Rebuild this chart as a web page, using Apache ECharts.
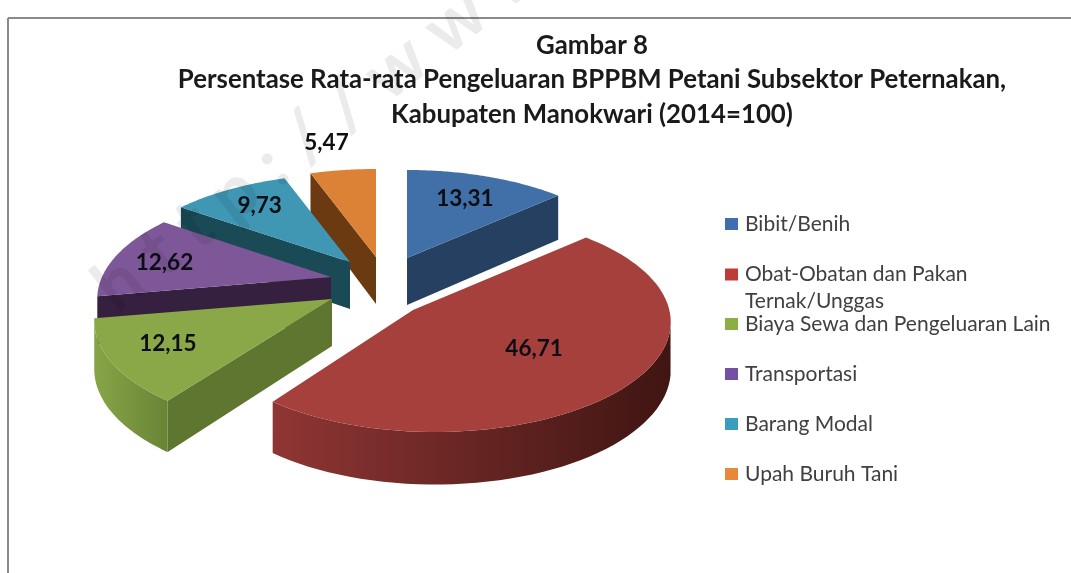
<!DOCTYPE html>
<html>
<head>
<meta charset="utf-8">
<style>html,body{margin:0;padding:0;background:#fff}#c{width:1071px;height:573px}</style>
<script src="https://cdn.jsdelivr.net/npm/echarts@6/dist/echarts.min.js"></script>
</head>
<body>
<div id="c"></div>
<script>
// --- data ---
const categories = ['Bibit/Benih','Obat-Obatan dan Pakan Ternak/Unggas','Biaya Sewa dan Pengeluaran Lain','Transportasi','Barang Modal','Upah Buruh Tani'];
const values = [13.31, 46.71, 12.15, 12.62, 9.73, 5.47];
const legendLines = {'Obat-Obatan dan Pakan Ternak/Unggas':' \nObat-Obatan dan Pakan\nTernak/Unggas'};

// --- styles ---
const topColors = ['#4170A8','#A5403D','#8AA848','#7E5799','#3F97B4','#DC8237'];
const cutColors = ['#254061','#5a2220','#5E7630','#36203F','#1A4A55','#6B3A10'];
const wallStart = ['#254061','#8F3634','#87A547','#46294F','#1A4A55','#6B3A10'];
const wallEnd   = ['#254061','#3F1512','#6A8436','#46294F','#1A4A55','#6B3A10'];
const legendColors = ['#3F6FB0','#BE3C38','#8CAE45','#7350A3','#3A9DBB','#E8883A'];

// --- pie layout ---
const centerX = 385, centerY = 284;
const radiusX = 231, radiusY = 105.6, perspective = 0.2, depth = 47;
const explodeX = [22, 50, -55, -52, -35, -9];
const explodeY = [-26, 16, 15, -7, -22, -27];
const tipShiftX = [0, -22, 2, -2, 0, 0];
const tipShiftY = [0, 10, 0, 0, 0, 0];
const labelRadiusX = [0.73, 0.5, 0.74, 0.78, 0.75, 1.5];
const labelRadiusY = [0.73, 0.6, 0.72, 0.65, 0.78, 1.31];
const paintOrder = [5, 4, 0, 3, 2, 1];
const legendRow = [224, 274, 324, 374, 424, 474];

const total = values.reduce((a, b) => a + b, 0);
const startAngle = [];
values.reduce((acc, v, i) => { startAngle[i] = acc; return acc + v / total * 360; }, 0);

function project(i, deg, k) {
  const t = deg * Math.PI / 180, w = 1 + perspective * Math.cos(t) * k;
  return {
    x: centerX + explodeX[i] + radiusX * k * Math.sin(t) / w,
    y: centerY + explodeY[i] - radiusY * k * Math.cos(t) / w,
    d: depth / Math.sqrt(w)
  };
}
const poly = (pts, style, z2) => ({ type: 'polygon', z2, shape: { points: pts }, style });

function renderSlice(i) {
  return function (params, api) {
    const v = api.value(0);
    const sweep = v / total * 360, a0 = startAngle[i], steps = 72;
    const arc = [];
    for (let s = 0; s <= steps; s++) arc.push(project(i, a0 + sweep * s / steps, 1));
    const c = project(i, 0, 0);
    const tip = { x: c.x + tipShiftX[i], y: c.y + tipShiftY[i], d: depth };
    const children = [];
    const quad = (a, b) => [[a.x, a.y], [b.x, b.y], [b.x, b.y + b.d], [a.x, a.y + a.d]];
    if (arc[0].x < tip.x - 1) children.push(poly(quad(tip, arc[0]), { fill: cutColors[i] }, 1));
    if (tip.x < arc[steps].x - 1) children.push(poly(quad(arc[steps], tip), { fill: cutColors[i] }, 1));
    const vis = arc.filter((p, n) => n > 0 ? p.x < arc[n - 1].x : arc[1].x < p.x);
    if (vis.length > 1) {
      const wall = vis.map(p => [p.x, p.y]).concat(vis.slice().reverse().map(p => [p.x, p.y + p.d]));
      children.push(poly(wall, {
        fill: new echarts.graphic.LinearGradient(0, 0, 1, 0, [
          { offset: 0, color: wallStart[i] }, { offset: 1, color: wallEnd[i] }
        ])
      }, 2));
    }
    children.push(poly([[tip.x, tip.y]].concat(arc.map(p => [p.x, p.y])), { fill: topColors[i] }, 3));
    const lab = project(i, a0 + sweep / 2, 1);
    children.push({
      type: 'text', z2: 4,
      style: {
        x: c.x + (lab.x - c.x) * labelRadiusX[i],
        y: c.y + (lab.y - c.y) * labelRadiusY[i],
        text: v.toFixed(2).replace('.', ','),
        fill: '#0d0d14', font: 'bold 22.5px Lato', align: 'center', verticalAlign: 'middle'
      }
    });
    return { type: 'group', children };
  };
}

const option = {
  animation: false,
  backgroundColor: '#fff',
  title: {
    text: 'Gambar 8\nPersentase Rata-rata Pengeluaran BPPBM Petani Subsektor Peternakan,\nKabupaten Manokwari (2014=100)',
    left: 587, top: 23, textAlign: 'center',
    textStyle: { fontFamily: 'Lato', fontWeight: 'bold', fontSize: 25.8, lineHeight: 34.5, color: '#1a1a1a' }
  },
  legend: categories.map((name, i) => ({
    data: [{ name, icon: 'rect', itemStyle: { color: legendColors[i] } }],
    left: 725, top: legendRow[i] - (legendLines[name] ? 40 : 13.5),
    itemWidth: 13, itemHeight: 12, itemGap: 0, padding: 0,
    selectedMode: false,
    formatter: n => legendLines[n] || n,
    textStyle: { fontFamily: 'Lato', fontSize: 21, color: '#404040', lineHeight: 27, padding: [0, 0, 0, 2] }
  })),
  graphic: [
    { type: 'line', shape: { x1: 8, y1: 18, x2: 1071, y2: 18 }, style: { stroke: '#8a8a8a', lineWidth: 2 } },
    { type: 'line', shape: { x1: 8, y1: 18, x2: 8, y2: 573 }, style: { stroke: '#8a8a8a', lineWidth: 2 } },
    {
      type: 'text', z: 100, silent: true, x: 125, y: 325, rotation: 38 * Math.PI / 180,
      style: { text: 'h t t p : / / w w w', font: 'bold 72px Lato', fill: 'rgba(0,0,0,0.08)', verticalAlign: 'bottom' }
    }
  ],
  series: paintOrder.map(i => ({
    type: 'custom',
    name: categories[i],
    coordinateSystem: 'none',
    itemStyle: { color: legendColors[i] },
    silent: true,
    clip: false,
    data: [[values[i]]],
    renderItem: renderSlice(i)
  }))
};
const chart = echarts.init(document.getElementById('c'), null, { renderer: 'canvas' });
chart.setOption(option);
</script>
</body>
</html>
